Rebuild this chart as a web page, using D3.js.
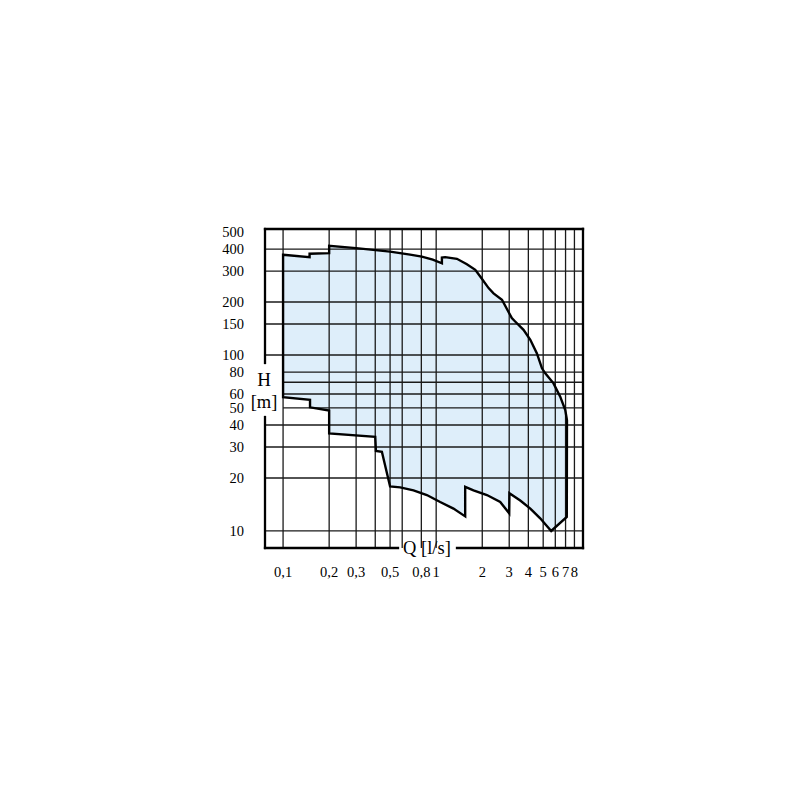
<!DOCTYPE html>
<html>
<head>
<meta charset="utf-8">
<script src="https://cdn.jsdelivr.net/npm/d3@7"></script>
<style>
  body { margin: 0; background: #fff; }
  svg text { font-family: "Liberation Serif", "DejaVu Serif", serif; fill: #000; }
</style>
</head>
<body>
<svg id="svg" width="800" height="800"></svg>
<script>
// flow Q [l/s] / head H [m] of the working area
const upperQ = [0.1, 0.149, 0.149, 0.2, 0.2, 0.3, 0.5, 0.676, 0.806, 0.95, 1.09, 1.09, 1.145, 1.366, 1.587, 1.8, 1.94, 2.2, 2.37, 2.69, 3.12, 3.28, 3.72, 4.12, 4.55, 4.91, 5.16, 5.84, 6.46, 6.97, 7.15];
const upperH = [371, 360, 376, 379, 417, 405, 387, 372, 362, 348, 332, 358, 360, 352, 328, 305, 279, 240, 224, 206, 162, 155, 139, 122, 102, 84, 78.7, 69, 58, 48.6, 42.7];

const lowerQ = [7.13, 5.64, 4.78, 4.12, 3.54, 3.01, 3.0, 2.62, 2.145, 1.753, 1.547, 1.547, 1.297, 1.062, 0.869, 0.711, 0.582, 0.5, 0.442, 0.404, 0.4, 0.2, 0.2, 0.15, 0.15, 0.1];
const lowerH = [12.0, 10.0, 11.8, 13.4, 14.9, 16.4, 12.6, 14.6, 16.0, 17.0, 17.8, 12.1, 13.4, 14.6, 16.0, 17.0, 17.7, 17.9, 28.2, 28.5, 34.3, 35.8, 48.3, 50.4, 55.6, 57.5];

const xGrid = [0.1, 0.2, 0.3, 0.4, 0.5, 0.6, 0.8, 1, 2, 3, 4, 5, 6, 7, 8];
const xTicks = [0.1, 0.2, 0.3, 0.5, 0.8, 1, 2, 3, 4, 5, 6, 7, 8];
const xTickLabels = ["0,1", "0,2", "0,3", "0,5", "0,8", "1", "2", "3", "4", "5", "6", "7", "8"];

const yGrid = [10, 20, 30, 40, 50, 60, 70, 80, 100, 150, 200, 300, 400];
const yTicks = [10, 20, 30, 40, 50, 60, 80, 100, 150, 200, 300, 400, 500];
const yTickLabels = ["10", "20", "30", "40", "50", "60", "80", "100", "150", "200", "300", "400", "500"];

const svg = d3.select("#svg");

const plotL = 265, plotR = 583, plotT = 229, plotB = 548;
const x = d3.scaleLog().domain([0.0762, 9.1]).range([plotL, plotR]);
const y = d3.scaleLog().domain([8, 520]).range([plotB, plotT]);

// area polygon: along the top, then back along the bottom
const pts = upperQ.map((q, i) => [q, upperH[i]])
    .concat(lowerQ.map((q, i) => [q, lowerH[i]]));

const line = d3.line()
    .x(d => x(d[0]))
    .y(d => y(d[1]));

svg.append("path")
    .attr("d", line(pts) + "Z")
    .attr("fill", "#deeefa")
    .attr("stroke", "none");

// grid
const grid = svg.append("g")
    .attr("stroke", "#1a1a1a")
    .attr("stroke-width", 1.3);

grid.selectAll("line.v")
    .data(xGrid)
    .join("line")
    .attr("class", "v")
    .attr("x1", d => x(d)).attr("x2", d => x(d))
    .attr("y1", plotT).attr("y2", plotB);

// rows inside the H [m] label gap start at the 0,1 line
grid.selectAll("line.h")
    .data(yGrid)
    .join("line")
    .attr("class", "h")
    .attr("x1", d => (y(d) > 362 && y(d) < 418) ? x(0.1) : plotL)
    .attr("x2", plotR)
    .attr("y1", d => y(d)).attr("y2", d => y(d));

// outline of the area
svg.append("path")
    .attr("d", line(pts) + "Z")
    .attr("fill", "none")
    .attr("stroke", "#000")
    .attr("stroke-width", 2.4)
    .attr("stroke-linejoin", "miter");

// frame, with gaps for the axis titles
const frame = svg.append("g")
    .attr("stroke", "#000")
    .attr("stroke-width", 2.3)
    .attr("stroke-linecap", "square");
frame.append("line").attr("x1", plotL).attr("x2", plotR).attr("y1", plotT).attr("y2", plotT);
frame.append("line").attr("x1", plotR).attr("x2", plotR).attr("y1", plotT).attr("y2", plotB);
frame.append("line").attr("x1", plotL).attr("x2", plotL).attr("y1", plotT).attr("y2", 363);
frame.append("line").attr("x1", plotL).attr("x2", plotL).attr("y1", 417).attr("y2", plotB);
frame.append("line").attr("x1", plotL).attr("x2", 398).attr("y1", plotB).attr("y2", plotB);
frame.append("line").attr("x1", 457).attr("x2", plotR).attr("y1", plotB).attr("y2", plotB);

// tick labels
svg.append("g")
    .selectAll("text")
    .data(yTicks)
    .join("text")
    .attr("x", 244)
    .attr("y", d => y(d))
    .attr("dy", "0.35em")
    .attr("text-anchor", "end")
    .attr("font-size", 14.5)
    .text((d, i) => yTickLabels[i]);

svg.append("g")
    .selectAll("text")
    .data(xTicks)
    .join("text")
    .attr("x", d => x(d))
    .attr("y", 577)
    .attr("text-anchor", "middle")
    .attr("font-size", 14.5)
    .text((d, i) => xTickLabels[i]);

// axis titles
svg.append("text").attr("x", 264).attr("y", 386).attr("text-anchor", "middle")
    .attr("font-size", 19).text("H");
svg.append("text").attr("x", 264).attr("y", 408).attr("text-anchor", "middle")
    .attr("font-size", 18.5).text("[m]");
svg.append("text").attr("x", 403).attr("y", 554).attr("text-anchor", "start")
    .attr("font-size", 18.5).text("Q [l/s]");
</script>
</body>
</html>
